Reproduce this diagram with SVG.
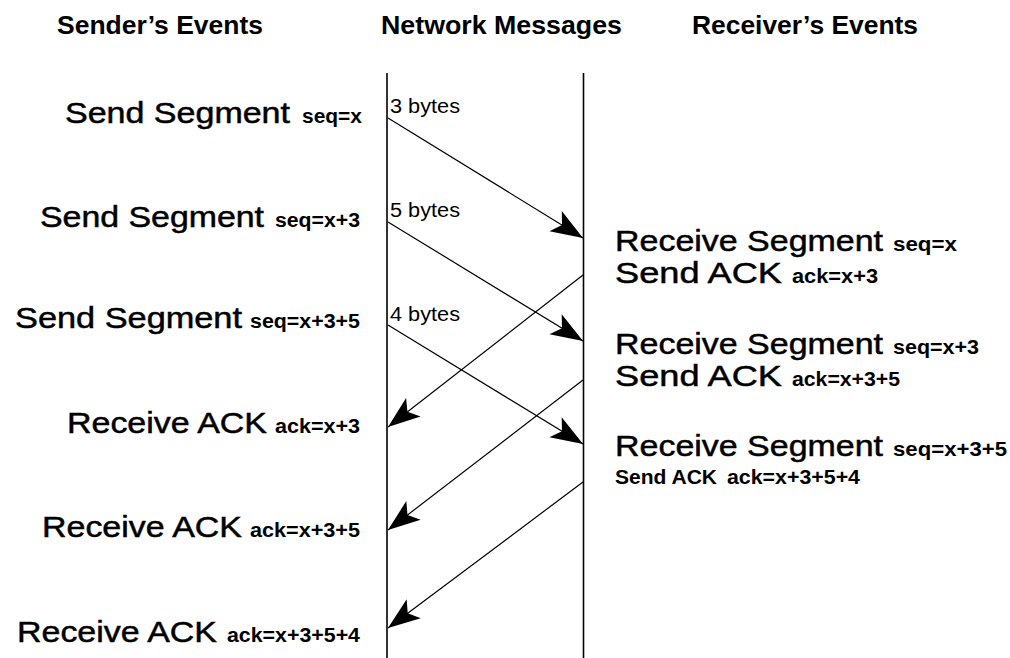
<svg xmlns="http://www.w3.org/2000/svg" width="1010" height="658" viewBox="0 0 1010 658">
  <style>
    text { font-family: "Liberation Sans", Arial, sans-serif; fill: #000; }
    .head { font-size: 26px; font-weight: bold; }
    .main { font-size: 30px; stroke: #000; stroke-width: 0.5px; }
    .sub { font-size: 20px; font-weight: bold; }
    .small { font-size: 20px; font-weight: bold; }
    .bytes { font-size: 20px; }
    .life { stroke: #000; stroke-width: 1.6; fill: none; }
    .msg { stroke: #000; stroke-width: 1.2; fill: none; marker-end: url(#head); }
  </style>
  <defs>
    <marker id="head" markerUnits="userSpaceOnUse" markerWidth="40" markerHeight="30" viewBox="-32 -14 34 28" refX="0" refY="0" orient="auto">
      <path d="M0,0 L-30,-11 L-23,0 L-30,11 Z" fill="#000"/>
    </marker>
  </defs>
  <rect width="1010" height="658" fill="#fff"/>

  <!-- column headings -->
  <g id="headings">
    <text class="head" x="57" y="34" textLength="206" lengthAdjust="spacingAndGlyphs">Sender’s Events</text>
    <text class="head" x="381" y="34" textLength="241" lengthAdjust="spacingAndGlyphs">Network Messages</text>
    <text class="head" x="692" y="34" textLength="226" lengthAdjust="spacingAndGlyphs">Receiver’s Events</text>
  </g>

  <!-- network timelines -->
  <g id="timelines">
    <line class="life" x1="387" y1="73" x2="387" y2="658"/>
    <line class="life" x1="583.5" y1="73" x2="583.5" y2="658"/>
  </g>

  <!-- messages between the timelines -->
  <g id="connectors">
    <line class="msg" x1="388" y1="118" x2="583" y2="238"/>
    <line class="msg" x1="388" y1="222" x2="583" y2="341"/>
    <line class="msg" x1="388" y1="325" x2="583" y2="444"/>
    <line class="msg" x1="583" y1="275" x2="388" y2="427"/>
    <line class="msg" x1="583" y1="380" x2="388" y2="530"/>
    <line class="msg" x1="583" y1="482" x2="388" y2="628"/>
    <text class="bytes" x="390" y="113" textLength="70" lengthAdjust="spacingAndGlyphs">3 bytes</text>
    <text class="bytes" x="390" y="217" textLength="70" lengthAdjust="spacingAndGlyphs">5 bytes</text>
    <text class="bytes" x="390" y="321" textLength="70" lengthAdjust="spacingAndGlyphs">4 bytes</text>
  </g>

  <!-- sender side events -->
  <g id="send1">
    <text class="main" x="65" y="123" textLength="225" lengthAdjust="spacingAndGlyphs">Send Segment</text>
    <text class="sub" x="302" y="123" textLength="60" lengthAdjust="spacingAndGlyphs">seq=x</text>
  </g>
  <g id="send2">
    <text class="main" x="40" y="227" textLength="224" lengthAdjust="spacingAndGlyphs">Send Segment</text>
    <text class="sub" x="275" y="227" textLength="85" lengthAdjust="spacingAndGlyphs">seq=x+3</text>
  </g>
  <g id="send3">
    <text class="main" x="15" y="328" textLength="227" lengthAdjust="spacingAndGlyphs">Send Segment</text>
    <text class="sub" x="250" y="328" textLength="110" lengthAdjust="spacingAndGlyphs">seq=x+3+5</text>
  </g>
  <g id="recvack1">
    <text class="main" x="67" y="433" textLength="200" lengthAdjust="spacingAndGlyphs">Receive ACK</text>
    <text class="sub" x="275" y="433" textLength="85" lengthAdjust="spacingAndGlyphs">ack=x+3</text>
  </g>
  <g id="recvack2">
    <text class="main" x="42" y="537" textLength="200" lengthAdjust="spacingAndGlyphs">Receive ACK</text>
    <text class="sub" x="250" y="537" textLength="110" lengthAdjust="spacingAndGlyphs">ack=x+3+5</text>
  </g>
  <g id="recvack3">
    <text class="main" x="17" y="642" textLength="200" lengthAdjust="spacingAndGlyphs">Receive ACK</text>
    <text class="sub" x="227" y="642" textLength="133" lengthAdjust="spacingAndGlyphs">ack=x+3+5+4</text>
  </g>

  <!-- receiver side events -->
  <g id="recv1">
    <text class="main" x="615" y="251" textLength="268" lengthAdjust="spacingAndGlyphs">Receive Segment</text>
    <text class="sub" x="893" y="251" textLength="64" lengthAdjust="spacingAndGlyphs">seq=x</text>
    <text class="main" x="615" y="283" textLength="167" lengthAdjust="spacingAndGlyphs">Send ACK</text>
    <text class="sub" x="792" y="283" textLength="86" lengthAdjust="spacingAndGlyphs">ack=x+3</text>
  </g>
  <g id="recv2">
    <text class="main" x="615" y="354" textLength="268" lengthAdjust="spacingAndGlyphs">Receive Segment</text>
    <text class="sub" x="893" y="354" textLength="86" lengthAdjust="spacingAndGlyphs">seq=x+3</text>
    <text class="main" x="615" y="386" textLength="167" lengthAdjust="spacingAndGlyphs">Send ACK</text>
    <text class="sub" x="792" y="386" textLength="108" lengthAdjust="spacingAndGlyphs">ack=x+3+5</text>
  </g>
  <g id="recv3">
    <text class="main" x="615" y="456" textLength="268" lengthAdjust="spacingAndGlyphs">Receive Segment</text>
    <text class="sub" x="893" y="456" textLength="114" lengthAdjust="spacingAndGlyphs">seq=x+3+5</text>
    <text class="small" x="615" y="484" textLength="102" lengthAdjust="spacingAndGlyphs">Send ACK</text>
    <text class="small" x="727" y="484" textLength="133" lengthAdjust="spacingAndGlyphs">ack=x+3+5+4</text>
  </g>
</svg>
